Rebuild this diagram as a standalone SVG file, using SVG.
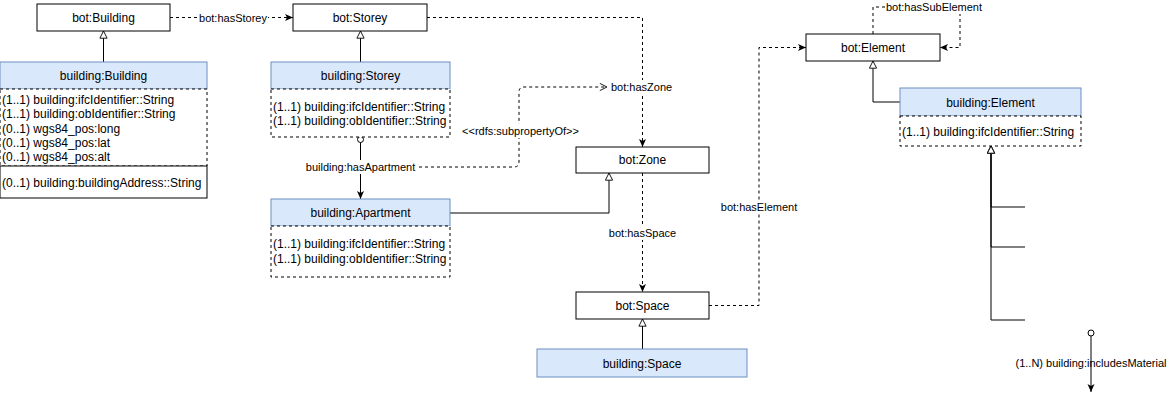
<svg xmlns="http://www.w3.org/2000/svg" width="1167" height="406" viewBox="0 0 1167 406">
<style>
text{font-family:"Liberation Sans",Arial,sans-serif;fill:#000}
.n{font-size:12px;text-anchor:middle}
.a{font-size:12px}
.l{font-size:11px;text-anchor:middle}
.bot{fill:#fff;stroke:#000;stroke-width:1}
.hdr{fill:#dae8fc;stroke:#6c8ebf;stroke-width:1}
.att{fill:#fff;stroke:#000;stroke-width:1;stroke-dasharray:3 3}
.sol{fill:#fff;stroke:#000;stroke-width:1}
.e{fill:none;stroke:#000;stroke-width:1}
.d{fill:none;stroke:#000;stroke-width:1;stroke-dasharray:3 3}
.bg{fill:#fff}
</style>
<defs>
<marker id="arr" viewBox="0 0 8 8" refX="8" refY="4" markerWidth="8" markerHeight="8" markerUnits="userSpaceOnUse" orient="auto"><path d="M0,0.5 L8,4 L0,7.5 L2,4z" fill="#000" stroke="none"/></marker>
<marker id="tri" viewBox="0 0 10 10" refX="9" refY="5" markerWidth="9" markerHeight="9" markerUnits="userSpaceOnUse" orient="auto"><path d="M1,1 L9,5 L1,9z" fill="#fff" stroke="#000" stroke-width="1"/></marker>
<marker id="open" viewBox="0 0 10 10" refX="9" refY="5" markerWidth="9" markerHeight="9" markerUnits="userSpaceOnUse" orient="auto"><path d="M1,1 L9,5 L1,9" fill="none" stroke="#000" stroke-width="1"/></marker>
</defs>
<g id="connectors">
<line class="d" x1="170" y1="17.5" x2="293" y2="17.5" marker-end="url(#arr)"/>
<rect class="bg" x="198" y="11" width="70" height="13"/>
<text class="l" x="233" y="21.5">bot:hasStorey</text>
<path class="d" d="M427,17.5 H642.5 V147" marker-end="url(#arr)"/>
<path class="e" d="M103.5,62 V31" marker-end="url(#tri)"/>
<path class="e" d="M360.5,62 V31" marker-end="url(#tri)"/>
<circle cx="360.5" cy="139.5" r="3" fill="#fff" stroke="#000"/>
<path class="e" d="M360.5,142.5 V199" marker-end="url(#arr)"/>
<rect class="bg" x="304" y="160" width="113" height="14"/>
<text class="l" x="360.5" y="171">building:hasApartment</text>
<path class="d" d="M419,167 H514 Q519,167 519,162 V92 Q519,87 524,87 H607" marker-end="url(#open)"/>
<rect class="bg" x="611" y="80" width="62" height="14"/>
<text class="l" x="611" y="91" style="text-anchor:start">bot:hasZone</text>
<rect class="bg" x="462" y="124" width="117" height="14"/>
<text class="l" x="520.5" y="135">&lt;&lt;rdfs:subpropertyOf&gt;&gt;</text>
<path class="e" d="M450,213 H609 V173" marker-end="url(#tri)"/>
<path class="d" d="M642.5,173 V292" marker-end="url(#arr)"/>
<rect class="bg" x="607" y="226" width="71" height="14"/>
<text class="l" x="642.5" y="237">bot:hasSpace</text>
<path class="e" d="M642.5,349 V319" marker-end="url(#tri)"/>
<path class="d" d="M709,305.5 H759 V47.5 H806" marker-end="url(#arr)"/>
<rect class="bg" x="718" y="200" width="82" height="14"/>
<text class="l" x="759" y="211">bot:hasElement</text>
<path class="e" d="M900,102 H873 V61" marker-end="url(#tri)"/>
<path class="d" d="M873,34 V7 H960 V47.5 H940" marker-end="url(#arr)"/>
<rect class="bg" x="886" y="0" width="97" height="14"/>
<text class="l" x="934" y="11">bot:hasSubElement</text>
<path class="e" d="M1025,207 H991 V146" marker-end="url(#tri)"/>
<path class="e" d="M1025,247 H991 V146" marker-end="url(#tri)"/>
<path class="e" d="M1025,320 H991 V146" marker-end="url(#tri)"/>
<circle cx="1091" cy="333" r="3" fill="#fff" stroke="#000"/>
<path class="e" d="M1091,336 V392" marker-end="url(#arr)"/>
<text class="l" x="1091" y="367">(1..N) building:includesMaterial</text>
</g>
<g id="botBuilding">
<rect class="bot" x="37" y="4" width="133" height="27"/>
<text class="n" x="103.5" y="22">bot:Building</text>
</g>
<g id="botStorey">
<rect class="bot" x="293" y="4" width="134" height="27"/>
<text class="n" x="360" y="22">bot:Storey</text>
</g>
<g id="buildingBuilding">
<rect class="hdr" x="0" y="62" width="207" height="27"/>
<text class="n" x="103.5" y="80">building:Building</text>
<rect class="att" x="0" y="89" width="207" height="77"/>
<text class="a" x="2" y="104">(1..1) building:ifcIdentifier::String</text>
<text class="a" x="2" y="118">(1..1) building:obIdentifier::String</text>
<text class="a" x="2" y="132.5">(0..1) wgs84_pos:long</text>
<text class="a" x="2" y="146.5">(0..1) wgs84_pos:lat</text>
<text class="a" x="2" y="160.5">(0..1) wgs84_pos:alt</text>
<rect class="sol" x="0" y="166" width="207" height="32"/>
<text class="a" x="2" y="187">(0..1) building:buildingAddress::String</text>
</g>
<g id="buildingStorey">
<rect class="hdr" x="271" y="62" width="179" height="27"/>
<text class="n" x="360.5" y="80">building:Storey</text>
<rect class="att" x="271" y="89" width="179" height="48"/>
<text class="a" x="273" y="111">(1..1) building:ifcIdentifier::String</text>
<text class="a" x="273" y="125">(1..1) building:obIdentifier::String</text>
</g>
<g id="buildingApartment">
<rect class="hdr" x="271" y="199" width="179" height="27"/>
<text class="n" x="360.5" y="217">building:Apartment</text>
<rect class="att" x="271" y="226" width="179" height="51"/>
<text class="a" x="273" y="248">(1..1) building:ifcIdentifier::String</text>
<text class="a" x="273" y="263">(1..1) building:obIdentifier::String</text>
</g>
<g id="botZone">
<rect class="bot" x="576" y="147" width="133" height="26"/>
<text class="n" x="642.5" y="164">bot:Zone</text>
</g>
<g id="botSpace">
<rect class="bot" x="576" y="292" width="133" height="27"/>
<text class="n" x="642.5" y="310">bot:Space</text>
</g>
<g id="buildingSpace">
<rect class="hdr" x="537" y="349" width="210" height="28"/>
<text class="n" x="642" y="367.5">building:Space</text>
</g>
<g id="botElement">
<rect class="bot" x="806" y="34" width="134" height="27"/>
<text class="n" x="873" y="52">bot:Element</text>
</g>
<g id="buildingElement">
<rect class="hdr" x="900" y="88" width="181" height="28"/>
<text class="n" x="990.5" y="106.5">building:Element</text>
<rect class="att" x="900" y="116" width="181" height="30"/>
<text class="a" x="902" y="136">(1..1) building:ifcIdentifier::String</text>
</g>
</svg>
